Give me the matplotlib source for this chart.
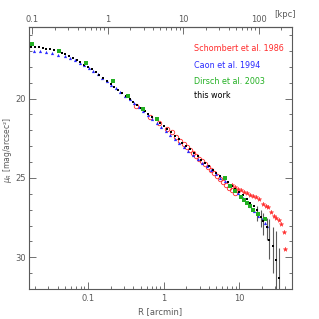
import numpy as np
import matplotlib
matplotlib.use("Agg")
import matplotlib.pyplot as plt
from matplotlib.ticker import LogLocator, MultipleLocator, NullFormatter, FixedLocator, FixedFormatter

# ---- data: radius in arcmin, surface brightness in mag/arcsec^2 ----
# this work
work_r = [0.0178, 0.0200, 0.0224, 0.0251, 0.0282, 0.0316, 0.0355, 0.0398, 0.0447, 0.0501,
          0.0562, 0.0631, 0.0708, 0.0794, 0.0891, 0.100, 0.112, 0.126, 0.141, 0.158,
          0.178, 0.200, 0.224, 0.251, 0.282, 0.316, 0.355, 0.398, 0.447, 0.501,
          0.562, 0.631, 0.708, 0.794, 0.891, 1.00, 1.12, 1.26, 1.41, 1.58,
          1.78, 2.00, 2.24, 2.51, 2.82, 3.16, 3.55, 3.98, 4.47, 5.01,
          5.62, 6.31, 7.08, 7.94, 8.91, 10.0, 11.2, 12.6, 14.1, 15.8]
work_mu = [16.73, 16.75, 16.78, 16.82, 16.86, 16.90, 16.96, 17.03, 17.11, 17.21,
           17.32, 17.45, 17.58, 17.72, 17.86, 18.01, 18.17, 18.34, 18.52, 18.70,
           18.89, 19.08, 19.27, 19.46, 19.65, 19.84, 20.02, 20.20, 20.38, 20.57,
           20.76, 20.95, 21.14, 21.33, 21.52, 21.72, 21.92, 22.13, 22.34, 22.55,
           22.77, 22.99, 23.20, 23.42, 23.64, 23.86, 24.07, 24.28, 24.48, 24.68,
           24.88, 25.08, 25.28, 25.48, 25.68, 25.88, 26.10, 26.32, 26.55, 26.78]
# outer points of this work with (asymmetric) errors
outer_r = [17.2, 19.3, 20.9, 23.3, 25.1, 27.9, 30.9, 33.6]
outer_mu = [27.00, 27.45, 27.70, 28.10, 28.90, 29.30, 30.15, 31.30]
outer_lo = [26.75, 27.00, 27.20, 27.50, 27.60, 28.10, 28.35, 29.40]
outer_hi = [27.70, 28.10, 28.60, 28.90, 30.10, 31.00, 32.00, 33.00]

# Caon et al. 1994
caon_r = [0.0195, 0.0229, 0.0282, 0.0339, 0.0407, 0.0490, 0.0575, 0.0676, 0.0776, 0.0891,
          0.102, 0.117, 0.135, 0.155, 0.178, 0.204, 0.234, 0.269, 0.309, 0.355,
          0.407, 0.468, 0.537, 0.617, 0.708, 0.813, 0.933, 1.07, 1.23, 1.41,
          1.62, 1.86, 2.14, 2.45, 2.82, 3.24, 3.72, 4.27, 4.90, 5.62,
          6.46, 7.41, 8.51, 9.77, 11.2, 12.6, 14.1, 15.8, 17.8, 20.0,
          21.9, 23.4]
caon_mu = [16.98, 17.03, 17.09, 17.13, 17.23, 17.34, 17.46, 17.60, 17.75, 17.90,
           18.07, 18.26, 18.47, 18.68, 18.91, 19.13, 19.36, 19.59, 19.83, 20.05,
           20.28, 20.52, 20.76, 21.02, 21.28, 21.52, 21.78, 22.03, 22.30, 22.55,
           22.80, 23.05, 23.30, 23.55, 23.80, 24.03, 24.27, 24.50, 24.74, 24.98,
           25.22, 25.47, 25.72, 25.98, 26.27, 26.52, 26.80, 27.10, 27.38, 27.62,
           27.85, 28.02]

# Dirsch et al. 2003
dirsch_r = [0.0180, 0.0417, 0.0942, 0.212, 0.342, 0.540, 0.813,
            6.46, 7.59, 8.91, 10.5, 11.5, 12.6, 14.0, 15.5, 17.8, 21.9]
dirsch_mu = [16.56, 16.98, 17.78, 18.91, 19.86, 20.65, 21.32,
             25.00, 25.50, 25.85, 26.20, 26.40, 26.55, 26.80, 27.00, 27.25, 27.60]

# Schombert et al. 1986: open circles (inner) and asterisks (outer)
schom_r = [0.437, 0.661, 0.871, 1.10, 1.29, 1.48, 1.66, 1.86, 2.04, 2.24,
           2.45, 2.69, 2.95, 3.24, 3.55, 3.89, 4.27, 4.68, 5.13, 5.62,
           6.17, 6.76, 7.41, 8.13, 8.91]
schom_mu = [20.44, 21.17, 21.55, 21.90, 22.12, 22.45, 22.66, 22.88, 23.06, 23.24,
            23.42, 23.60, 23.78, 23.95, 24.12, 24.30, 24.48, 24.66, 24.86, 25.06,
            25.26, 25.45, 25.62, 25.78, 25.92]
schom_out_r = [7.94, 8.71, 9.55, 10.5, 11.5, 12.6, 13.8, 15.1, 16.6, 18.6,
               20.9, 22.9, 24.5, 26.3, 28.8, 30.9, 33.9, 35.5, 38.9, 40.7]
schom_out_mu = [25.45, 25.58, 25.68, 25.78, 25.88, 25.97, 26.06, 26.15, 26.20, 26.35,
                26.62, 26.75, 26.85, 27.15, 27.40, 27.55, 27.65, 27.88, 28.40, 29.45]

KPC_PER_ARCMIN = 5.5

RED = "#ff2a2a"
BLUE = "#2a2aff"
GREEN = "#22b022"
GREY = "#5a5a5a"

plt.rcParams["font.family"] = "DejaVu Sans"
plt.rcParams["font.size"] = 6

fig = plt.figure(figsize=(3.19, 3.19), dpi=100)
ax = fig.add_axes([0.091, 0.094, 0.824, 0.821])

ax.plot(schom_out_r, schom_out_mu, ls="none", marker="*", ms=3.3, color=RED, mec=RED, mew=0.3)
ax.plot(schom_r, schom_mu, ls="none", marker="o", ms=3.2, mfc="none", mec=RED, mew=0.6)
ax.plot(caon_r, caon_mu, ls="none", marker="^", ms=2.3, color=BLUE, mew=0)
yerr = [np.array(outer_mu) - np.array(outer_lo), np.array(outer_hi) - np.array(outer_mu)]
ax.errorbar(outer_r, outer_mu, yerr=yerr, ls="none", ecolor=GREY, elinewidth=0.8,
            capsize=1.5, capthick=0.8, marker="s", ms=2.0, color="black", mew=0)
ax.plot(work_r, work_mu, ls="none", marker="s", ms=2.0, color="black", mew=0)
ax.plot(dirsch_r, dirsch_mu, ls="none", marker="s", ms=2.6, color=GREEN, mew=0)

ax.set_xscale("log")
ax.set_xlim(0.0166, 50)
ax.set_ylim(32.0, 15.5)

ax.xaxis.set_major_locator(FixedLocator([0.1, 1, 10]))
ax.xaxis.set_major_formatter(FixedFormatter(["0.1", "1", "10"]))
ax.xaxis.set_minor_locator(LogLocator(base=10, subs=np.arange(2, 10)))
ax.xaxis.set_minor_formatter(NullFormatter())
ax.yaxis.set_major_locator(MultipleLocator(5))
ax.yaxis.set_minor_locator(MultipleLocator(1))

for s in ax.spines.values():
    s.set_color(GREY)
    s.set_linewidth(0.8)
ax.tick_params(which="both", direction="in", colors=GREY, labelcolor=GREY,
               labelsize=6, right=True, top=False)
ax.tick_params(which="major", length=5, width=0.6)
ax.tick_params(which="minor", length=2.5, width=0.6)
ax.tick_params(axis="y", which="major", pad=2.5)

sec = ax.secondary_xaxis("top", functions=(lambda x: x * KPC_PER_ARCMIN,
                                           lambda x: x / KPC_PER_ARCMIN))
sec.xaxis.set_major_locator(FixedLocator([0.1, 1, 10, 100]))
sec.xaxis.set_major_formatter(FixedFormatter(["0.1", "1", "10", "100"]))
sec.xaxis.set_minor_locator(LogLocator(base=10, subs=np.arange(2, 10)))
sec.xaxis.set_minor_formatter(NullFormatter())
sec.spines["top"].set_color(GREY)
sec.spines["top"].set_linewidth(0.8)
sec.tick_params(which="both", direction="in", colors=GREY, labelcolor=GREY, labelsize=6)
sec.tick_params(which="major", length=5, width=0.6, pad=2)
sec.tick_params(which="minor", length=2.5, width=0.6)

fig.text(0.893, 0.953, "[kpc]", color=GREY, fontsize=6, ha="center", va="center")

ax.set_xlabel("R [arcmin]", color=GREY, fontsize=6, labelpad=3)
ax.set_ylabel("$\\mu_R$ [mag/arcsec\u00b2]", color=GREY, fontsize=5.5)
ax.yaxis.set_label_coords(-0.056, 0.53)

labels = [("Schombert et al. 1986", RED), ("Caon et al. 1994", BLUE),
          ("Dirsch et al. 2003", GREEN), ("this work", "black")]
for (txt, col), yy in zip(labels, [0.920, 0.855, 0.794, 0.737]):
    ax.text(0.627, yy, txt, color=col, fontsize=5.8, transform=ax.transAxes,
            ha="left", va="center")

fig.savefig("out.png", dpi=100)
